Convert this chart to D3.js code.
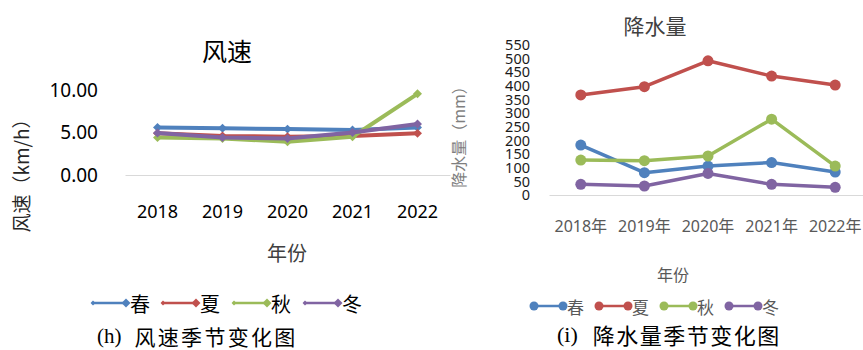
<!DOCTYPE html>
<html><head><meta charset="utf-8">
<script src="https://cdn.jsdelivr.net/npm/d3@7"></script>
<style>
body{margin:0;background:#fff;}
svg{display:block;}
</style></head>
<body>
<svg id="c" width="863" height="350"></svg>
<script>
const years = ["2018","2019","2020","2021","2022"];
const seasons = ["春","夏","秋","冬"];
const colors = ["#4f81bd","#c0504d","#9bbb59","#8064a2"];
const windSpring = [5.6,5.5,5.4,5.3,5.6];
const windSummer = [4.9,4.6,4.5,4.6,4.9];
const windAutumn = [4.4,4.3,3.9,4.5,9.55];
const windWinter = [4.95,4.4,4.3,5.0,6.0];
const windTicks = [0,5,10];
const rainSpring = [183,82,106,119,84];
const rainSummer = [367,397,492,436,403];
const rainAutumn = [128,126,143,278,106];
const rainWinter = [39,33,79,39,28];
const rainTicks = [0,50,100,150,200,250,300,350,400,450,500,550];
const rainYearLabels = years.map(y => y + "年");

const windSeries = [windSpring, windSummer, windAutumn, windWinter];
const rainSeries = [rainSpring, rainSummer, rainAutumn, rainWinter];

const FONT = "'Noto Sans','Noto Sans CJK SC',sans-serif";
const CJK = "'Noto Sans CJK SC','Noto Sans',sans-serif";
const svg = d3.select("#c");

// ---------- Left chart: wind speed ----------
{
  const x = d3.scaleBand().domain(years).range([125, 450]).padding(0);
  const y = d3.scaleLinear().domain([0, 10]).range([175, 90]);
  const g = svg.append("g");

  g.append("text").attr("x", 227).attr("y", 50).attr("text-anchor","middle")
    .attr("dominant-baseline","central").attr("font-family", CJK).attr("font-size", 25)
    .attr("fill","#000").text("风速");

  const xa = g.append("g").attr("transform","translate(0,175)")
    .call(d3.axisBottom(x).tickSize(0).tickPadding(30));
  xa.select(".domain").attr("stroke","#d9d9d9").attr("stroke-width",1.2);
  xa.selectAll("text").attr("font-family", FONT).attr("font-size", 18).attr("fill","#000");

  const ya = g.append("g").attr("transform","translate(125,0)")
    .call(d3.axisLeft(y).tickValues(windTicks).tickFormat(d3.format(".2f")).tickSize(0).tickPadding(27));
  ya.select(".domain").remove();
  ya.selectAll("text").attr("font-family", FONT).attr("font-size", 19).attr("fill","#000");

  g.append("text").attr("transform","translate(20,171) rotate(-90)")
    .attr("text-anchor","middle").attr("dominant-baseline","central")
    .attr("font-family", CJK).attr("font-size", 19).attr("fill","#262626").text("风速（km/h）");

  g.append("text").attr("x", 287).attr("y", 252).attr("text-anchor","middle")
    .attr("dominant-baseline","central").attr("font-family", CJK).attr("font-size", 20)
    .attr("fill","#404040").text("年份");

  const line = d3.line().x((d,i) => x(years[i]) + x.bandwidth()/2).y(d => y(d));
  const diamond = d3.symbol().type(d3.symbolSquare).size(40);
  windSeries.forEach((s, k) => {
    g.append("path").datum(s).attr("d", line).attr("fill","none")
      .attr("stroke", colors[k]).attr("stroke-width", 4).attr("stroke-linejoin","round");
    g.selectAll(null).data(s).enter().append("path")
      .attr("d", diamond)
      .attr("transform", (d,i) => `translate(${x(years[i]) + x.bandwidth()/2},${y(d)}) rotate(45)`)
      .attr("fill", colors[k]);
  });

  const lx = [93, 163, 234, 305];
  seasons.forEach((s, k) => {
    const x0 = lx[k], x1 = x0 + 35, yy = 303;
    g.append("line").attr("x1",x0).attr("x2",x1).attr("y1",yy).attr("y2",yy)
      .attr("stroke",colors[k]).attr("stroke-width",2.5);
    g.append("path").attr("d", d3.symbol().type(d3.symbolSquare).size(12))
      .attr("transform",`translate(${x0},${yy}) rotate(45)`).attr("fill",colors[k]);
    g.append("path").attr("d", d3.symbol().type(d3.symbolSquare).size(40))
      .attr("transform",`translate(${x1-2},${yy}) rotate(45)`).attr("fill",colors[k]);
    g.append("text").attr("x", x1 + 2).attr("y", yy).attr("dominant-baseline","central")
      .attr("font-family", CJK).attr("font-size", 20).attr("fill","#000").text(s);
  });

  const cap = g.append("text").attr("x", 97).attr("y", 336).attr("dominant-baseline","central")
    .attr("font-size", 21).attr("fill","#000");
  cap.append("tspan").attr("font-family","'Liberation Serif',serif").text("(h)");
  cap.append("tspan").attr("font-family", CJK).attr("dx", 13).attr("letter-spacing", 2.3).text("风速季节变化图");
}

// ---------- Right chart: precipitation ----------
{
  const x = d3.scaleBand().domain(rainYearLabels).range([549, 867]).padding(0);
  const y = d3.scaleLinear().domain([0, 550]).range([195, 45]);
  const g = svg.append("g");

  g.append("text").attr("x", 655).attr("y", 25).attr("text-anchor","middle")
    .attr("dominant-baseline","central").attr("font-family", CJK).attr("font-size", 21)
    .attr("fill","#404040").text("降水量");

  const xa = g.append("g").attr("transform","translate(0,195)")
    .call(d3.axisBottom(x).tickSize(0).tickPadding(26));
  xa.select(".domain").attr("stroke","#d9d9d9").attr("stroke-width",1.2);
  xa.selectAll("text").attr("font-family", FONT).attr("font-size", 16).attr("fill","#595959");

  const ya = g.append("g").attr("transform","translate(549,0)")
    .call(d3.axisLeft(y).tickValues(rainTicks).tickSize(0).tickPadding(19));
  ya.select(".domain").remove();
  ya.selectAll("text").attr("font-family", FONT).attr("font-size", 14.5).attr("fill","#1a1a1a");

  g.append("text").attr("transform","translate(458,133) rotate(-90)")
    .attr("text-anchor","middle").attr("dominant-baseline","central")
    .attr("font-family", CJK).attr("font-size", 16).attr("fill","#7f7f7f").text("降水量（mm）");

  g.append("text").attr("x", 673).attr("y", 274).attr("text-anchor","middle")
    .attr("dominant-baseline","central").attr("font-family", CJK).attr("font-size", 16)
    .attr("fill","#595959").text("年份");

  const line = d3.line().x((d,i) => x(rainYearLabels[i]) + x.bandwidth()/2).y(d => y(d));
  rainSeries.forEach((s, k) => {
    g.append("path").datum(s).attr("d", line).attr("fill","none")
      .attr("stroke", colors[k]).attr("stroke-width", 3.5).attr("stroke-linejoin","round");
    g.selectAll(null).data(s).enter().append("circle")
      .attr("cx", (d,i) => x(rainYearLabels[i]) + x.bandwidth()/2)
      .attr("cy", d => y(d)).attr("r", 5.5).attr("fill", colors[k]);
  });

  const lx = [534, 599, 664, 729];
  seasons.forEach((s, k) => {
    const x0 = lx[k], x1 = x0 + 29, yy = 306;
    g.append("line").attr("x1",x0).attr("x2",x1).attr("y1",yy).attr("y2",yy)
      .attr("stroke",colors[k]).attr("stroke-width",2.5);
    g.append("circle").attr("cx",x0).attr("cy",yy).attr("r",4.5).attr("fill",colors[k]);
    g.append("circle").attr("cx",x1).attr("cy",yy).attr("r",4.5).attr("fill",colors[k]);
    g.append("text").attr("x", x1 + 4).attr("y", yy).attr("dominant-baseline","central")
      .attr("font-family", CJK).attr("font-size", 17).attr("fill","#595959").text(s);
  });

  const cap = g.append("text").attr("x", 557).attr("y", 334).attr("dominant-baseline","central")
    .attr("font-size", 22).attr("fill","#000");
  cap.append("tspan").attr("font-family","'Liberation Serif',serif").text("(i)");
  cap.append("tspan").attr("font-family", CJK).attr("dx", 15).attr("letter-spacing", 1.5).text("降水量季节变化图");
}
</script>
</body></html>
